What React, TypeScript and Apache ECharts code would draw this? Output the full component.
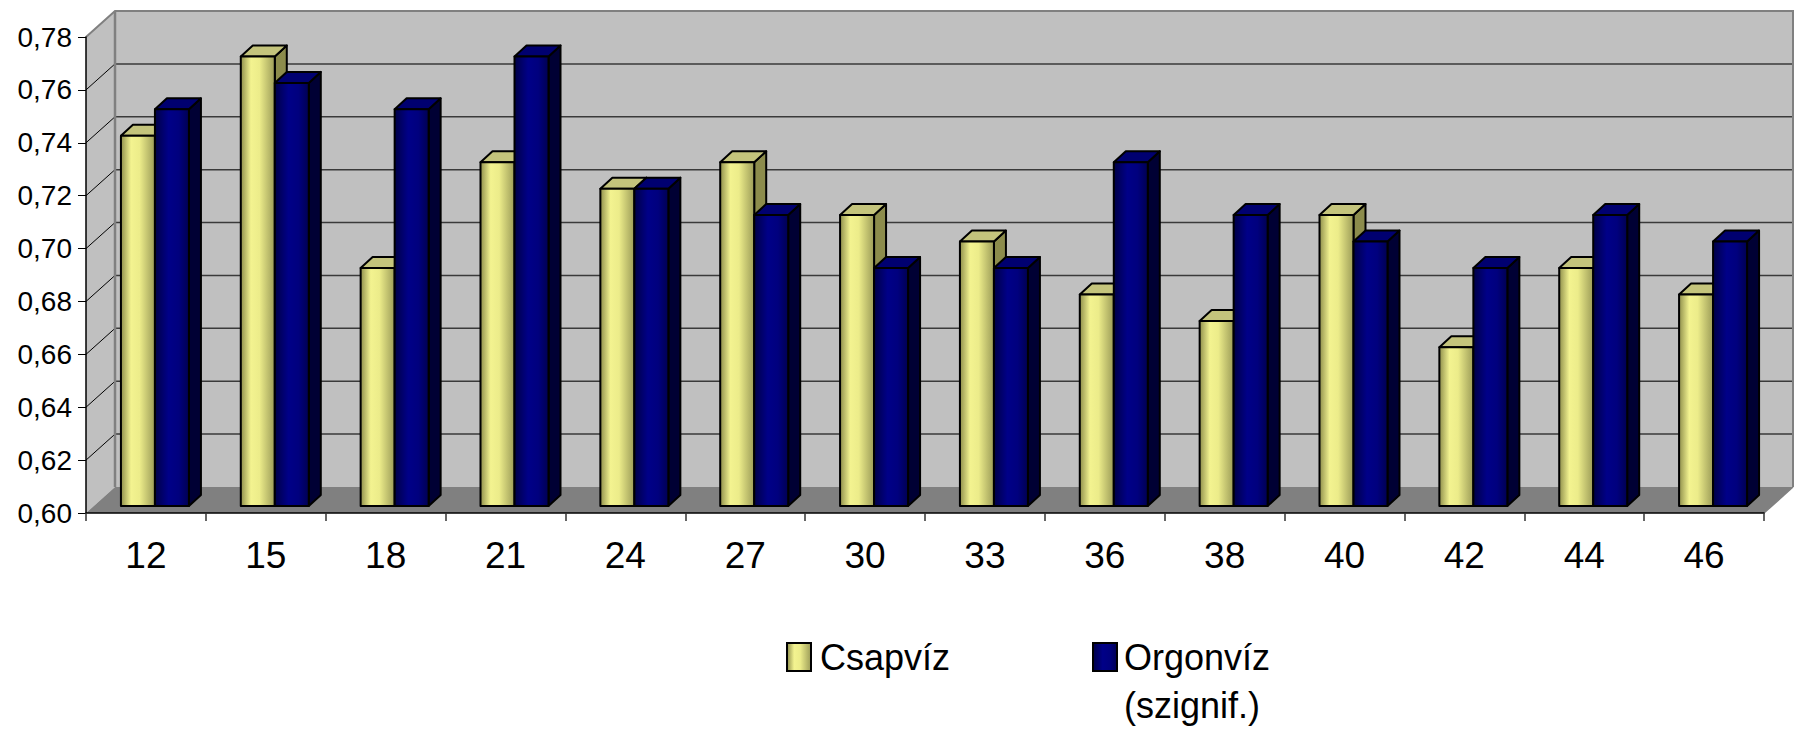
import React, { useEffect, useRef } from "react";
import * as echarts from "echarts";

const categories = ["12", "15", "18", "21", "24", "27", "30", "33", "36", "38", "40", "42", "44", "46"];
const csapviz = [0.74, 0.77, 0.69, 0.73, 0.72, 0.73, 0.71, 0.7, 0.68, 0.67, 0.71, 0.66, 0.69, 0.68];
const orgonviz = [0.75, 0.76, 0.75, 0.77, 0.72, 0.71, 0.69, 0.69, 0.73, 0.71, 0.7, 0.69, 0.71, 0.7];
const yTicks = [0.6, 0.62, 0.64, 0.66, 0.68, 0.7, 0.72, 0.74, 0.76, 0.78];
const seriesNames = ["Csapvíz", "Orgonvíz\n(szignif.)"];

const FONT = "'Liberation Sans', Arial, sans-serif";
const DX = 29;
const DY = -26;
const BAR_W = 34;
const BAR_DX = 12;
const BAR_DY = -11;
const BAR_LIFT = 7;

const yellowFront = new echarts.graphic.LinearGradient(0, 0, 1, 0, [
  { offset: 0, color: "#8f8f4c" },
  { offset: 0.3, color: "#f3f390" },
  { offset: 0.55, color: "#ecec8a" },
  { offset: 1, color: "#9c9c58" },
]);
const blueFront = new echarts.graphic.LinearGradient(0, 0, 1, 0, [
  { offset: 0, color: "#000046" },
  { offset: 0.4, color: "#000088" },
  { offset: 0.7, color: "#00007e" },
  { offset: 1, color: "#000052" },
]);

function makeBarRender(offsetX: number, front: any, side: string, topC: string) {
  return (params: any, api: any) => {
    const idx = api.value(0);
    const v = api.value(1);
    const base = api.coord([idx, yTicks[0]]);
    const p = api.coord([idx, v]);
    const x0 = base[0] + offsetX;
    const x1 = x0 + BAR_W;
    const yb = base[1] - BAR_LIFT;
    const yt = p[1] - BAR_LIFT;
    const stroke = { stroke: "#000", lineWidth: 2, lineJoin: "round" };
    return {
      type: "group",
      children: [
        {
          type: "polygon",
          shape: { points: [[x1, yt], [x1 + BAR_DX, yt + BAR_DY], [x1 + BAR_DX, yb + BAR_DY], [x1, yb]] },
          style: { fill: side, ...stroke },
        },
        {
          type: "polygon",
          shape: { points: [[x0, yt], [x0 + BAR_DX, yt + BAR_DY], [x1 + BAR_DX, yt + BAR_DY], [x1, yt]] },
          style: { fill: topC, ...stroke },
        },
        {
          type: "rect",
          shape: { x: x0, y: yt, width: BAR_W, height: yb - yt },
          style: { fill: front, ...stroke },
        },
      ],
    };
  };
}

function renderWalls(params: any, api: any) {
  const cs = params.coordSys;
  const L = cs.x;
  const R = cs.x + cs.width;
  const T = cs.y;
  const B = cs.y + cs.height;
  const children: any[] = [];
  children.push({
    type: "rect",
    shape: { x: L + DX, y: T + DY, width: R - L, height: B - T },
    style: { fill: "#c0c0c0" },
  });
  children.push({
    type: "polygon",
    shape: { points: [[L, T], [L + DX, T + DY], [L + DX, B + DY], [L, B]] },
    style: { fill: "#c0c0c0" },
  });
  yTicks.slice(1, yTicks.length - 1).forEach((v) => {
    const y = api.coord([0, v])[1];
    children.push({
      type: "line",
      shape: { x1: L + DX, y1: y + DY, x2: R + DX, y2: y + DY },
      style: { stroke: "#3a3a3a", lineWidth: 1.5 },
    });
    children.push({
      type: "line",
      shape: { x1: L, y1: y, x2: L + DX, y2: y + DY },
      style: { stroke: "#000", lineWidth: 1 },
    });
  });
  children.push({
    type: "polygon",
    shape: { points: [[L, B], [R, B], [R + DX, B + DY], [L + DX, B + DY]] },
    style: { fill: "#808080" },
  });
  children.push({
    type: "polyline",
    shape: { points: [[L, T], [L + DX, T + DY], [R + DX, T + DY], [R + DX, B + DY]] },
    style: { stroke: "#808080", lineWidth: 2, fill: null },
  });
  children.push({
    type: "line",
    shape: { x1: L + DX, y1: T + DY, x2: L + DX, y2: B + DY },
    style: { stroke: "#808080", lineWidth: 2.5 },
  });
  children.push({
    type: "line",
    shape: { x1: R, y1: B, x2: R + DX, y2: B + DY },
    style: { stroke: "#808080", lineWidth: 1.5 },
  });
  return { type: "group", children };
}

export default function App() {
  const ref = useRef<HTMLDivElement>(null);
  useEffect(() => {
    if (!ref.current) return;
    const chart = echarts.init(ref.current, undefined, { renderer: "svg" });
    const legendText = { color: "#000", fontSize: 36, fontFamily: FONT };
    chart.setOption({
      animation: false,
      backgroundColor: "#fff",
      grid: { left: 86, top: 37, width: 1678, height: 476 },
      legend: [
        {
          left: 786,
          top: 639,
          padding: 0,
          icon: "rect",
          itemWidth: 24,
          itemHeight: 28,
          data: [
            {
              name: seriesNames[0],
              itemStyle: { color: yellowFront, borderColor: "#000", borderWidth: 2 },
            },
          ],
          textStyle: { ...legendText, lineHeight: 36, padding: [0, 0, 0, 4] },
        },
        {
          left: 1092,
          top: 585,
          padding: 0,
          icon: "rect",
          itemWidth: 24,
          itemHeight: 28,
          formatter: (name: string) => "\n" + name,
          data: [
            {
              name: seriesNames[1],
              itemStyle: { color: blueFront, borderColor: "#000", borderWidth: 2 },
            },
          ],
          textStyle: { ...legendText, lineHeight: 48, padding: [0, 0, 0, 2] },
        },
      ],
      xAxis: {
        type: "category",
        data: categories,
        boundaryGap: true,
        z: 5,
        axisLine: { lineStyle: { color: "#000", width: 1.5 } },
        axisTick: { show: true, length: 8, lineStyle: { color: "#333", width: 1.5 } },
        axisLabel: { color: "#000", fontSize: 37, fontFamily: FONT, margin: 24 },
        splitLine: { show: false },
      },
      yAxis: {
        type: "value",
        min: yTicks[0],
        max: yTicks[yTicks.length - 1],
        interval: 0.02,
        z: 5,
        axisLine: { show: true, lineStyle: { color: "#000", width: 1.5 } },
        axisTick: { show: true, length: 8, lineStyle: { color: "#000", width: 1 } },
        axisLabel: {
          color: "#000",
          fontSize: 28,
          fontFamily: FONT,
          margin: 14,
          formatter: (v: number) => v.toFixed(2).replace(".", ","),
        },
        splitLine: { show: false },
      },
      series: [
        {
          type: "custom",
          name: "walls",
          silent: true,
          z: 1,
          renderItem: renderWalls,
          data: [[0, yTicks[0]]],
        },
        {
          type: "custom",
          name: seriesNames[0],
          z: 2,
          itemStyle: { color: "#f0f08c" },
          renderItem: makeBarRender(-25, yellowFront, "#8c8c4c", "#c4c47c"),
          data: csapviz.map((v, i) => [i, v]),
        },
        {
          type: "custom",
          name: seriesNames[1],
          z: 3,
          itemStyle: { color: "#000080" },
          renderItem: makeBarRender(9, blueFront, "#000034", "#000070"),
          data: orgonviz.map((v, i) => [i, v]),
        },
      ],
    });
    return () => chart.dispose();
  }, []);
  return <div ref={ref} style={{ position: "fixed", left: 0, top: 0, width: 1794, height: 732 }} />;
}
